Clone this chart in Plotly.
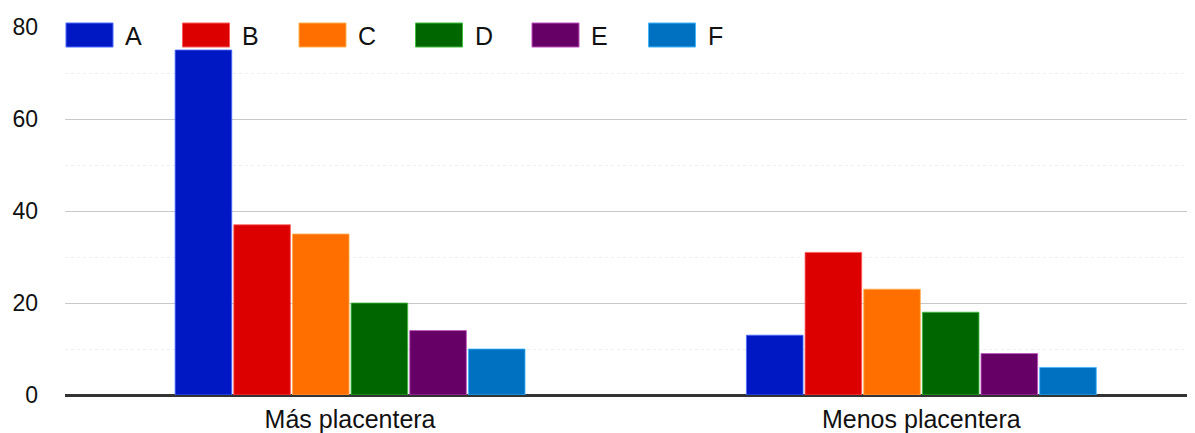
import plotly.graph_objects as go

categories = ["Más placentera", "Menos placentera"]
series_names = ["A", "B", "C", "D", "E", "F"]
values_A = [75, 13]
values_B = [37, 31]
values_C = [35, 23]
values_D = [20, 18]
values_E = [14, 9]
values_F = [10, 6]
y_ticks = [0, 20, 40, 60, 80]

series_values = [values_A, values_B, values_C, values_D, values_E, values_F]
colors = ["#0018C4", "#DC0000", "#FF6F00", "#006600", "#660066", "#0070C0"]
edge_colors = ["#4A6BFF", "#FF5A5A", "#FFB050", "#3FBF3F", "#C050C0", "#40B8FF"]

# page body has an 8px margin, so the figure is drawn 8px in from the top-left
OFF = 8
W, H = 1195 - OFF, 433 - OFF
L, R, T, B = 65 - OFF, 0, 27 - OFF, 38
FONT = "Liberation Sans, Arial, sans-serif"

fig = go.Figure()
for name, vals, col, ec in zip(series_names, series_values, colors, edge_colors):
    fig.add_trace(go.Bar(
        name=name, x=categories, y=vals,
        marker=dict(color=col, line=dict(color=ec, width=0.8)),
        showlegend=False,
    ))

# custom legend (large swatches like the reference); positions in screen pixels
pw = W - L - R
ph = H - T - B
def px_x(p):
    return (p - OFF - L) / pw
def px_y(p):
    return (H - B - (p - OFF)) / ph

shapes = []
annotations = []
for i, (name, col, ec) in enumerate(zip(series_names, colors, edge_colors)):
    x0 = 66 + i * 116.5
    shapes.append(dict(type="rect", xref="paper", yref="paper",
                       x0=px_x(x0 - 3), x1=px_x(x0 + 47 + 3),
                       y0=px_y(45), y1=px_y(25),
                       fillcolor="white", line=dict(width=0), layer="above"))
    shapes.append(dict(type="rect", xref="paper", yref="paper",
                       x0=px_x(x0), x1=px_x(x0 + 47),
                       y0=px_y(47), y1=px_y(23),
                       fillcolor=col, line=dict(color=ec, width=1), layer="above"))
    annotations.append(dict(text=name, xref="paper", yref="paper",
                            x=px_x(x0 + 56), y=px_y(36),
                            xanchor="left", yanchor="middle", showarrow=False,
                            bgcolor="white", borderpad=2,
                            font=dict(family=FONT, size=25, color="#111111")))

fig.update_layout(
    width=W, height=H,
    margin=dict(l=L, r=R, t=T, b=B, autoexpand=False),
    paper_bgcolor="white", plot_bgcolor="white",
    barmode="group", bargap=0.384, bargroupgap=0.035,
    showlegend=False,
    shapes=shapes, annotations=annotations,
    font=dict(family=FONT, color="#111111"),
)
fig.update_xaxes(
    range=[-0.499, 1.479], showgrid=False, showline=False, ticks="",
    tickfont=dict(family=FONT, size=25, color="#111111"),
    ticklabelstandoff=7,
)
fig.update_yaxes(
    range=[0, 80], tickvals=y_ticks, showgrid=True, gridcolor="#c8c8c8", gridwidth=1,
    zeroline=True, zerolinecolor="#333333", zerolinewidth=3,
    showline=False, ticks="",
    tickfont=dict(family=FONT, size=23, color="#111111"),
    ticklabelstandoff=26,
    minor=dict(dtick=10, showgrid=True, gridcolor="#eeeeee", griddash="dot"),
)

fig.write_html("out.html")
